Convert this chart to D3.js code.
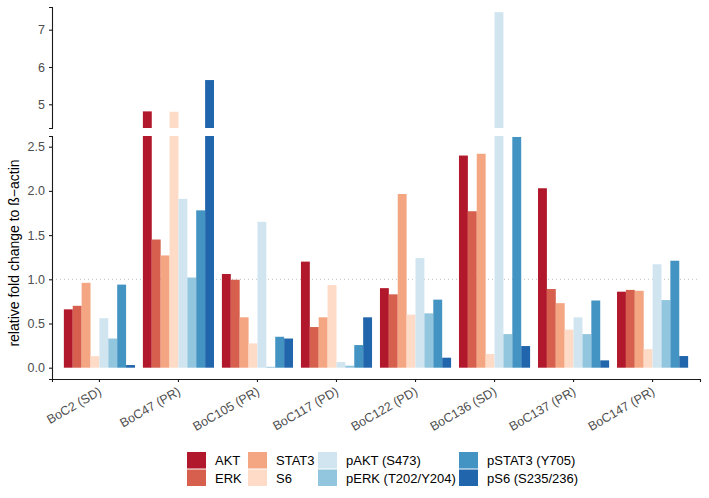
<!DOCTYPE html>
<html>
<head>
<meta charset="utf-8">
<script src="https://cdn.jsdelivr.net/npm/d3@7"></script>
<style>
  body { margin: 0; background: #fff; }
  text { font-family: "Liberation Sans", Arial, sans-serif; }
</style>
</head>
<body>
<script>
// data
var samples = ["BoC2 (SD)", "BoC47 (PR)", "BoC105 (PR)", "BoC117 (PD)", "BoC122 (PD)", "BoC136 (SD)", "BoC137 (PR)", "BoC147 (PR)"];
var markers = ["AKT", "ERK", "STAT3", "S6", "pAKT (S473)", "pERK (T202/Y204)", "pSTAT3 (Y705)", "pS6 (S235/236)"];
var colors = ["#B2182B", "#D6604D", "#F4A582", "#FDDBC7", "#D1E5F0", "#92C5DE", "#4393C3", "#2166AC"];

var akt    = [0.66, 4.81, 1.06, 1.20, 0.90, 2.40, 2.03, 0.86];
var erk    = [0.70, 1.45, 0.995, 0.46, 0.83, 1.77, 0.89, 0.88];
var stat3  = [0.96, 1.27, 0.57, 0.57, 1.965, 2.42, 0.73, 0.87];
var s6     = [0.13, 4.80, 0.275, 0.935, 0.60, 0.155, 0.43, 0.21];
var pakt   = [0.56, 1.91, 1.65, 0.064, 1.24, 7.47, 0.57, 1.17];
var perk   = [0.33, 1.02, 0.01, 0.023, 0.615, 0.38, 0.38, 0.765];
var pstat3 = [0.94, 1.78, 0.35, 0.256, 0.77, 2.61, 0.76, 1.21];
var ps6    = [0.03, 5.65, 0.33, 0.57, 0.113, 0.245, 0.083, 0.132];

var lowTicks = [0, 0.5, 1, 1.5, 2, 2.5];
var highTicks = [5, 6, 7];

var series = [akt, erk, stat3, s6, pakt, perk, pstat3, ps6];
var rows = [];
samples.forEach(function(s, i) {
    markers.forEach(function(m, j) {
        rows.push({sample: s, marker: m, value: series[j][i], color: colors[j]});
    });
});

var W = 709, H = 498;
var left = 52, right = 700;
// bottom panel (0 - 2.6), top panel (4.4 - 7.6)
var low = {top: 136, bottom: 379};
var high = {top: 7, bottom: 128};

var svg = d3.select("body").append("svg")
    .attr("width", W)
    .attr("height", H);

var x = d3.scaleBand().domain(samples).range([left, right]).paddingInner(0.1).paddingOuter(0.15);
var xi = d3.scaleBand().domain(markers).range([0, x.bandwidth()]);

var yLow0 = d3.scaleLinear().domain([0, 2.5]).range([367.7, 146.7]);
var yLow = d3.scaleLinear().domain([yLow0.invert(low.bottom), yLow0.invert(low.top)]).range([low.bottom, low.top]);
var yHigh0 = d3.scaleLinear().domain([5, 7]).range([104.3, 29.7]);
var yHigh = d3.scaleLinear().domain([yHigh0.invert(high.bottom), yHigh0.invert(high.top)]).range([high.bottom, high.top]);

var defs = svg.append("defs");
defs.append("clipPath").attr("id", "clipLow").append("rect")
    .attr("x", left).attr("y", low.top).attr("width", right - left).attr("height", low.bottom - low.top);
defs.append("clipPath").attr("id", "clipHigh").append("rect")
    .attr("x", left).attr("y", high.top).attr("width", right - left).attr("height", high.bottom - high.top);

// reference line at 1
svg.append("line")
    .attr("x1", left).attr("x2", right)
    .attr("y1", yLow(1)).attr("y2", yLow(1))
    .attr("stroke", "#b8c4cc")
    .attr("stroke-width", 1)
    .attr("stroke-dasharray", "1,3");

// bottom panel bars
svg.append("g").attr("clip-path", "url(#clipLow)")
    .selectAll("rect").data(rows).enter().append("rect")
    .attr("x", function(d) { return x(d.sample) + xi(d.marker); })
    .attr("width", xi.bandwidth())
    .attr("y", function(d) { return yLow(d.value); })
    .attr("height", function(d) { return yLow(0) - yLow(d.value); })
    .attr("fill", function(d) { return d.color; });

// top panel bars (only those that reach it)
svg.append("g").attr("clip-path", "url(#clipHigh)")
    .selectAll("rect").data(rows.filter(function(d) { return d.value > yHigh.domain()[0]; })).enter().append("rect")
    .attr("x", function(d) { return x(d.sample) + xi(d.marker); })
    .attr("width", xi.bandwidth())
    .attr("y", function(d) { return yHigh(d.value); })
    .attr("height", function(d) { return high.bottom - yHigh(d.value); })
    .attr("fill", function(d) { return d.color; });

// axes
function styleAxis(g) {
    g.selectAll("path, line").attr("stroke", "#1a1a1a").attr("stroke-width", 1.1);
    g.selectAll("text").attr("fill", "#4d4d4d").attr("font-size", 12.5)
        .style("font-family", "'Liberation Sans', Arial, sans-serif");
}

svg.append("g")
    .attr("transform", "translate(" + left + ",0)")
    .call(d3.axisLeft(yLow).tickValues(lowTicks).tickSizeOuter(0).tickSize(3).tickPadding(4).tickFormat(d3.format(".1f")))
    .call(styleAxis);

svg.append("g")
    .attr("transform", "translate(" + left + ",0)")
    .call(d3.axisLeft(yHigh).tickValues(highTicks).tickSizeOuter(0).tickSize(3).tickPadding(4).tickFormat(d3.format("d")))
    .call(styleAxis);

var xAxis = svg.append("g")
    .attr("transform", "translate(0," + low.bottom + ")")
    .call(d3.axisBottom(x).tickSizeOuter(0).tickSize(3))
    .call(styleAxis);

xAxis.selectAll("text")
    .attr("text-anchor", "end")
    .attr("dy", null)
    .attr("y", 0)
    .attr("transform", "translate(3,15) rotate(-30)");

// y label
svg.append("text")
    .attr("transform", "translate(19," + 253 + ") rotate(-90)")
    .attr("text-anchor", "middle")
    .attr("font-size", 14)
    .attr("fill", "#000")
    .text("relative fold change to ß\u2212actin");

// legend
var legCols = [187, 248, 318, 459];
var legend = svg.append("g");
markers.forEach(function(m, j) {
    var col = Math.floor(j / 2), row = j % 2;
    var gx = legCols[col], gy = 452 + row * 17.5;
    legend.append("rect")
        .attr("x", gx).attr("y", gy)
        .attr("width", 19).attr("height", 16.5)
        .attr("fill", colors[j]);
    legend.append("text")
        .attr("x", gx + 28).attr("y", gy + 8.5)
        .attr("dy", "0.35em")
        .attr("font-size", 13)
        .attr("fill", "#000")
        .text(m);
});
</script>
</body>
</html>
